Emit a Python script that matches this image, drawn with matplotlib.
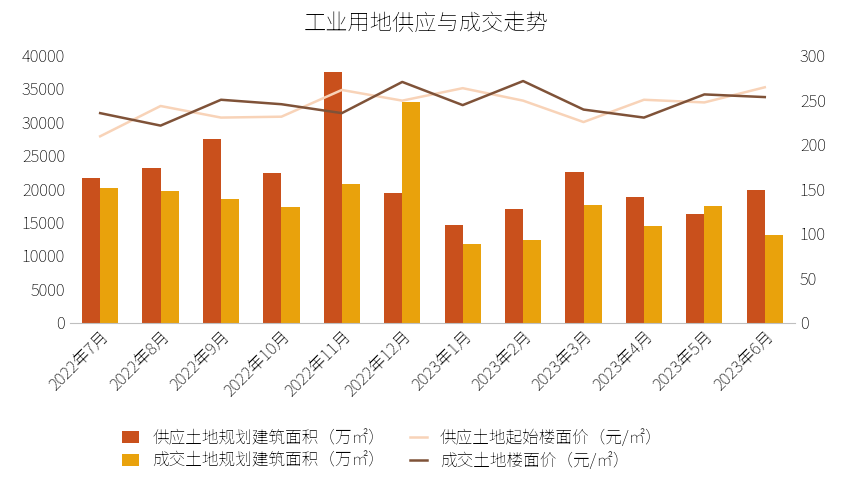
import matplotlib
matplotlib.use("Agg")
import matplotlib.pyplot as plt
from matplotlib import font_manager as fm
import numpy as np
import glob

files = glob.glob('/usr/share/fonts/**/*CJK*', recursive=True) + glob.glob('/usr/share/fonts/**/*Noto*SC*', recursive=True)
good = [f for f in files if 'Regular' in f or 'Medium' in f]
fam = 'DejaVu Sans'
for f in (good if good else files):
    try:
        fm.fontManager.addfont(f)
    except Exception:
        pass
names = {f.name for f in fm.fontManager.ttflist}
for cand in ['Noto Sans CJK SC', 'Noto Sans SC', 'Noto Sans CJK JP']:
    if cand in names:
        fam = cand
        break
plt.rcParams['font.family'] = [fam, 'DejaVu Sans']
plt.rcParams['font.weight'] = 'medium'
plt.rcParams['text.color'] = 'black'
plt.rcParams['xtick.color'] = 'black'
plt.rcParams['ytick.color'] = 'black'

months = ['2022年7月','2022年8月','2022年9月','2022年10月','2022年11月','2022年12月',
          '2023年1月','2023年2月','2023年3月','2023年4月','2023年5月','2023年6月']
supply_area = [21700, 23100, 27500, 22400, 37500, 19400, 14600, 17000, 22500, 18800, 16300, 19800]
deal_area = [20200, 19700, 18500, 17300, 20700, 33000, 11700, 12400, 17600, 14400, 17500, 13100]
supply_price = [209, 243, 230, 231, 261, 249, 263, 249, 225, 250, 247, 264]
deal_price = [235, 221, 250, 245, 235, 270, 244, 271, 239, 230, 256, 253]

fig = plt.figure(figsize=(8.53, 4.8), dpi=100)
ax = fig.add_axes([0.082, 0.328, 0.85, 0.557])
x = np.arange(len(months))
w = 0.3
b1 = ax.bar(x - w/2, supply_area, w, color='#C9501C', label='供应土地规划建筑面积（万㎡）')
b2 = ax.bar(x + w/2, deal_area, w, color='#E9A20C', label='成交土地规划建筑面积（万㎡）')
ax.set_ylim(0, 40000)
ax.set_yticks(range(0, 40001, 5000))
ax.set_xlim(-0.5, len(months) - 0.5)
ax.set_xticks(x)
ax.set_xticklabels(months, rotation=45, ha='right', rotation_mode='anchor', fontsize=12)
ax.tick_params(axis='y', labelsize=12, length=0)
ax.tick_params(axis='x', length=0)
for s in ['top', 'right', 'left']:
    ax.spines[s].set_visible(False)
ax.spines['bottom'].set_color('#bfbfbf')

ax2 = ax.twinx()
l1, = ax2.plot(x, supply_price, color='#F8D3B8', lw=1.8, label='供应土地起始楼面价（元/㎡）')
l2, = ax2.plot(x, deal_price, color='#7F5238', lw=1.8, label='成交土地楼面价（元/㎡）')
ax2.set_ylim(0, 300)
ax2.set_yticks(range(0, 301, 50))
ax2.tick_params(axis='y', labelsize=12, length=0)
for s in ['top', 'right', 'left', 'bottom']:
    ax2.spines[s].set_visible(False)

fig.suptitle('工业用地供应与成交走势', y=0.975, fontsize=16, color='black')
fig.legend(handles=[b1, b2, l1, l2], loc='lower center', ncol=2, frameon=False,
           fontsize=12, bbox_to_anchor=(0.46, -0.01), handlelength=1.0,
           columnspacing=1.5, labelspacing=0.3)
fig.savefig('out.png', dpi=100)
